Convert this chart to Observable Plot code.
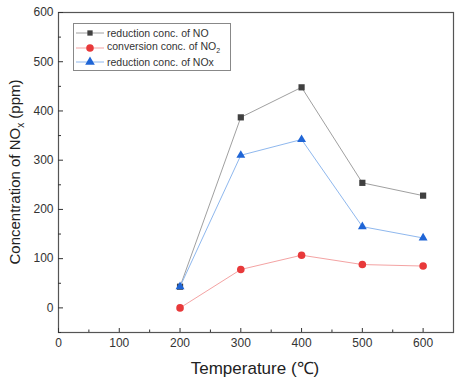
<!DOCTYPE html>
<html><head><meta charset="utf-8">
<script src="https://cdn.jsdelivr.net/npm/d3@7"></script>
<script src="https://cdn.jsdelivr.net/npm/@observablehq/plot@0.6"></script>
<style>
body{margin:0;background:#fff;font-family:Arial,"Liberation Sans",sans-serif;}
#wrap{position:relative;width:461px;height:384px;}
#legend{position:absolute;left:73px;top:23px;width:158px;height:48px;border:1px solid #888;background:#fff;font-size:10.5px;color:#333;box-sizing:border-box;}
#legend .row{position:absolute;left:2px;height:14px;display:flex;align-items:center;}
#legend svg{margin-right:3px;}
</style></head>
<body><div id="wrap"><div id="legend"></div></div>
<script>
const temps = [200, 300, 400, 500, 600];
const noReduction = [43, 387, 448, 254, 228];
const no2Conversion = [0, 78, 107, 88, 85];
const noxReduction = [43, 310, 342, 165, 142];
const xTicks = [0, 100, 200, 300, 400, 500, 600];
const yTicks = [0, 100, 200, 300, 400, 500, 600];
const seriesNames = ["reduction conc. of NO", "conversion conc. of NO2", "reduction conc. of NOx"];

const rows = (vals, s) => temps.map((t, i) => ({t, v: vals[i], s}));
const dNO = rows(noReduction, 0), dNO2 = rows(no2Conversion, 1), dNOx = rows(noxReduction, 2);

const styles = [
  {line:"#a0a0a0", fill:"#404040", sym:"square", r:3.5},
  {line:"#f4a3a3", fill:"#e8393a", sym:"circle", r:3.8},
  {line:"#8fb8ee", fill:"#1f65d6", sym:"triangle", r:3.3}
];
const data = [dNO, dNO2, dNOx];
const marks = [Plot.frame({stroke:"#555", strokeWidth:1.2})];
marks.push(Plot.axisX({ticks: xTicks, tickSize:-4, tickPadding:10, label:null, fontSize:12, tickFormat:d=>d, color:"#333"}));
marks.push(Plot.axisX({ticks: d3.range(50,650,100), tickSize:-2.5, text:null, label:null}));
marks.push(Plot.axisY({ticks: yTicks, tickSize:-5, tickPadding:10, label:null, fontSize:12, color:"#333"}));
marks.push(Plot.axisY({ticks: d3.range(-50,650,100), tickSize:-3, text:null, label:null}));
data.forEach((d, i) => {
  marks.push(Plot.line(d, {x:"t", y:"v", stroke: styles[i].line, strokeWidth:1}));
  marks.push(Plot.dot(d, {x:"t", y:"v", fill: styles[i].fill, stroke:"none", symbol: styles[i].sym, r: styles[i].r}));
});
const chart = Plot.plot({
  width:461, height:384,
  marginLeft:58, marginRight:8, marginTop:12, marginBottom:52,
  style:{fontFamily:'Arial,"Liberation Sans",sans-serif', color:"#333"},
  x:{domain:[0,650]},
  y:{domain:[-50,600]},
  marks
});
document.getElementById("wrap").prepend(chart);
const svg = d3.select(chart);
svg.append("text").attr("x", 255).attr("y", 374).attr("text-anchor","middle")
  .attr("font-size", 17).attr("fill","#222").text("Temperature (℃)");
const yl = svg.append("text").attr("transform","translate(20,172) rotate(-90)").attr("text-anchor","middle")
  .attr("font-size", 15).attr("fill","#222");
yl.append("tspan").text("Concentration of NO");
yl.append("tspan").attr("font-size", 10).attr("dy", 4).text("x");
yl.append("tspan").attr("dy", -4).text(" (ppm)");

const leg = d3.select("#legend");
seriesNames.forEach((name, i) => {
  const row = leg.append("div").attr("class","row").style("top", (2 + i*14.5) + "px");
  const s = row.append("svg").attr("width", 28).attr("height", 12);
  s.append("line").attr("x1",0).attr("x2",28).attr("y1",6).attr("y2",6).attr("stroke", styles[i].line);
  const sym = d3.symbol().type(i===0?d3.symbolSquare:i===1?d3.symbolCircle:d3.symbolTriangle).size(i===0?28:i===1?45:40);
  s.append("path").attr("d", sym()).attr("transform","translate(14,6)").attr("fill", styles[i].fill);
  const label = row.append("span");
  if (i === 1) { label.text("conversion conc. of NO"); label.append("sub").style("font-size","7px").text("2"); }
  else label.text(name);
});
</script></body></html>
